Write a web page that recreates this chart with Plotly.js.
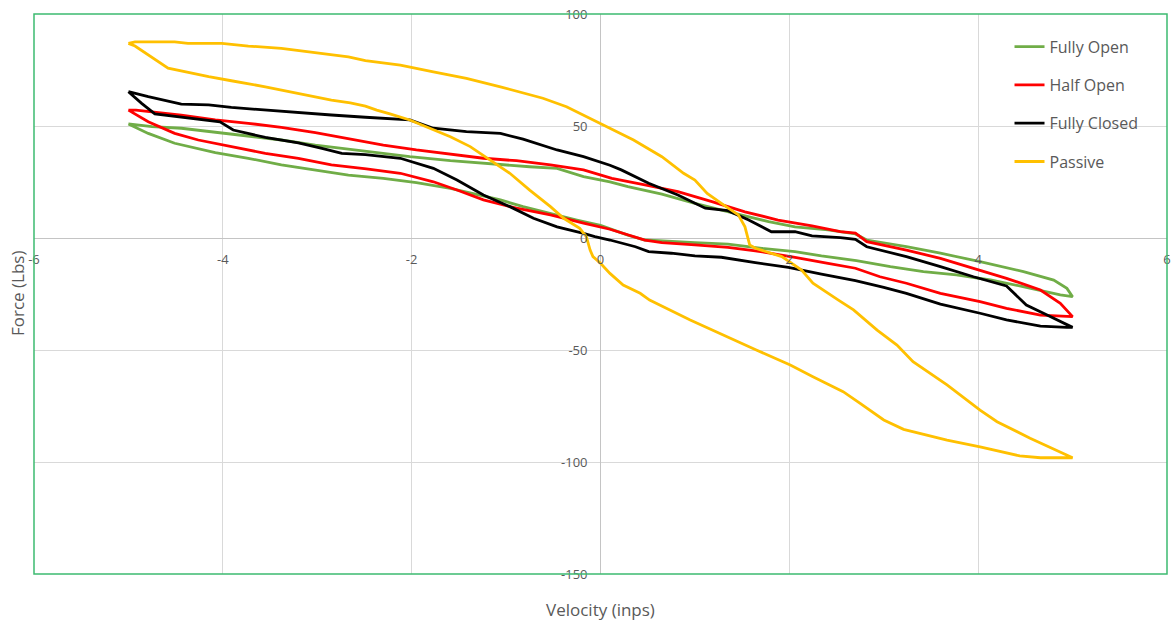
<!DOCTYPE html>
<html>
<head>
<meta charset="utf-8">
<script src="https://cdn.plot.ly/plotly-3.0.1.min.js"></script>
<style>
  html, body { margin: 0; padding: 0; background: #ffffff; }
  #chart { width: 1171px; height: 624px; }
</style>
</head>
<body>
<div id="chart"></div>
<script>
// Damper force vs. velocity loops (each loop: upper branch -5 -> 5, then lower branch back)
const seriesNames = ["Fully Open", "Half Open", "Fully Closed", "Passive"];
const seriesColors = ["#70AD47", "#FF0000", "#000000", "#FFC000"];

const fullyOpenX = [-5.0, -4.75, -4.44, -4.01, -3.73, -3.38, -3.02, -2.65, -2.30, -2.02, -1.59, -1.17, -0.75, -0.46, -0.18, 0.10, 0.29, 0.65, 1.0, 1.42, 1.78, 2.06, 2.41, 2.70, 2.82, 3.24, 3.60, 4.02, 4.48, 4.80, 4.94, 5.0,
  4.87, 4.51, 4.13, 3.77, 3.42, 3.07, 2.71, 2.34, 2.06, 1.71, 1.35, 1.0, 0.65, 0.47, 0.29, 0.0, -0.25, -0.53, -0.82, -1.06, -1.31, -1.59, -1.95, -2.30, -2.67, -3.02, -3.38, -3.73, -4.08, -4.51, -4.79, -5.0];
const fullyOpenY = [50.9, 49.7, 49.0, 47.0, 45.5, 43.75, 41.5, 39.6, 38.0, 36.3, 34.5, 33.0, 31.8, 31.1, 27.4, 25.1, 22.9, 19.6, 15.5, 11.0, 7.3, 5.0, 3.6, 1.8, -0.9, -3.9, -6.8, -10.6, -15.0, -18.8, -22.5, -26.2,
  -25.4, -22.0, -18.75, -16.5, -15.0, -12.8, -10.1, -8.0, -6.1, -4.6, -2.7, -2.1, -1.2, -0.9, 1.3, 5.6, 8.0, 11.0, 14.0, 17.0, 19.6, 22.2, 24.7, 26.6, 28.1, 30.4, 32.6, 35.6, 38.1, 42.3, 46.7, 50.9];

const halfOpenX = [-5.0, -4.92, -4.44, -4.08, -3.73, -3.38, -3.02, -2.65, -2.30, -1.95, -1.59, -1.24, -0.89, -0.53, -0.18, 0.0, 0.12, 0.47, 0.82, 1.18, 1.53, 1.88, 2.24, 2.54, 2.70, 2.82, 3.24, 3.60, 3.95, 4.30, 4.66, 4.87, 5.0,
  4.87, 4.66, 4.30, 4.02, 3.60, 3.24, 2.96, 2.70, 2.41, 2.06, 1.64, 1.35, 1.0, 0.65, 0.47, 0.29, 0.10, -0.18, -0.53, -0.89, -1.24, -1.52, -1.77, -2.12, -2.48, -2.85, -3.20, -3.55, -3.91, -4.26, -4.51, -4.79, -5.0];
const halfOpenY = [57.1, 57.1, 54.9, 52.7, 51.2, 49.4, 47.0, 44.3, 41.5, 39.3, 37.5, 35.6, 34.5, 32.6, 30.4, 28.0, 26.6, 23.7, 20.7, 16.2, 11.7, 8.0, 5.4, 2.8, 2.2, -1.6, -5.4, -9.1, -13.5, -18.0, -23.2, -29.2, -35.1,
  -34.8, -34.4, -31.4, -28.4, -24.7, -20.2, -17.3, -13.5, -11.3, -8.6, -5.7, -4.2, -3.1, -2.1, -0.9, 1.3, 3.9, 6.6, 10.3, 13.3, 17.0, 21.4, 25.1, 28.9, 30.9, 32.6, 35.6, 37.8, 40.8, 43.75, 46.7, 51.9, 57.1];

const fullyClosedX = [-5.0, -4.79, -4.44, -4.15, -3.91, -3.55, -3.20, -2.85, -2.49, -2.30, -2.02, -1.77, -1.42, -1.06, -0.82, -0.46, -0.18, 0.10, 0.22, 0.51, 0.82, 1.11, 1.35, 1.57, 1.81, 2.06, 2.24, 2.54, 2.70, 2.82, 3.24, 3.60, 3.95, 4.30, 4.51, 4.73, 5.0,
  4.94, 4.66, 4.30, 4.02, 3.60, 3.24, 3.0, 2.70, 2.34, 1.99, 1.64, 1.28, 1.0, 0.75, 0.51, 0.37, 0.10, -0.06, -0.18, -0.46, -0.71, -0.96, -1.24, -1.52, -1.77, -2.12, -2.49, -2.74, -2.95, -3.20, -3.55, -3.89, -4.03, -4.44, -4.72, -4.86, -5.0];
const fullyClosedY = [65.3, 63.1, 59.8, 59.4, 58.3, 57.1, 55.9, 54.9, 53.9, 53.4, 52.7, 49.0, 47.5, 46.7, 44.1, 39.3, 36.3, 32.5, 30.4, 24.4, 19.2, 13.3, 12.2, 8.0, 2.8, 2.8, 0.9, 0.2, -0.6, -3.9, -8.3, -12.8, -17.3, -21.4, -29.9, -34.4, -39.9,
  -39.9, -39.3, -36.6, -33.6, -29.5, -24.7, -22.0, -19.0, -16.1, -13.1, -11.0, -8.6, -8.0, -6.8, -6.1, -3.9, -0.9, 0.6, 2.1, 5.0, 8.8, 14.0, 19.2, 25.9, 31.1, 35.6, 37.2, 37.8, 40.0, 42.5, 44.9, 48.2, 51.9, 53.9, 55.4, 60.1, 65.3];

const passiveX = [-5.0, -4.93, -4.51, -4.37, -4.01, -3.73, -3.38, -3.02, -2.67, -2.49, -2.12, -1.77, -1.42, -1.06, -0.61, -0.36, 0.0, 0.35, 0.65, 0.88, 1.0, 1.13, 1.28, 1.46, 1.53, 1.58, 1.64, 1.92, 2.13, 2.25, 2.52, 2.68, 2.93, 3.14, 3.31, 3.67, 4.02, 4.20, 4.55, 5.0,
  4.66, 4.44, 4.02, 3.67, 3.21, 3.0, 2.75, 2.57, 2.25, 2.01, 1.65, 1.30, 0.95, 0.52, 0.42, 0.24, 0.10, 0.0, -0.08, -0.11, -0.15, -0.22, -0.39, -0.53, -0.75, -0.96, -1.17, -1.38, -1.59, -1.77, -2.02, -2.23, -2.37, -2.49, -2.65, -2.85, -3.20, -3.55, -3.91, -4.15, -4.58, -4.79, -4.93, -5.0];
const passiveY = [86.9, 87.6, 87.6, 86.9, 86.9, 85.7, 84.7, 82.7, 80.9, 79.2, 77.2, 74.2, 71.3, 67.5, 62.4, 58.6, 51.2, 43.75, 36.3, 28.9, 25.9, 19.9, 15.5, 10.3, 5.0, -3.1, -4.6, -8.3, -14.3, -20.2, -27.7, -32.1, -41.1, -47.8, -55.2, -65.6, -76.8, -82.0, -89.4, -98.1,
  -98.1, -97.3, -93.2, -90.2, -85.4, -81.25, -73.8, -68.6, -61.9, -56.7, -50.0, -43.3, -36.6, -27.7, -24.7, -21.0, -15.8, -11.3, -8.3, -5.4, 0.6, 4.3, 8.8, 14.0, 21.4, 28.9, 34.8, 40.8, 45.2, 48.2, 52.7, 55.4, 57.1, 58.9, 60.3, 61.6, 64.6, 67.5, 70.2, 72.0, 75.8, 81.7, 85.7, 86.9];

const xTickVals = [-6, -4, -2, 0, 2, 4, 6];
const yTickVals = [-150, -100, -50, 0, 50, 100];

const seriesX = [fullyOpenX, halfOpenX, fullyClosedX, passiveX];
const seriesY = [fullyOpenY, halfOpenY, fullyClosedY, passiveY];

const textColor = "#595959";
const fontFamily = "'Open Sans', 'Noto Sans', sans-serif";

const traces = seriesNames.map((name, i) => ({
  type: "scatter",
  mode: "lines",
  name: name,
  legendgroup: "g" + i,
  x: seriesX[i],
  y: seriesY[i],
  line: { color: seriesColors[i], width: 2.8 },
  hoverinfo: "skip"
}));

const borderGreen = "#3dbb70";

const layout = {
  width: 1171,
  height: 624,
  margin: { l: 34, r: 4, t: 14, b: 50 },
  paper_bgcolor: "#ffffff",
  plot_bgcolor: "#ffffff",
  font: { family: fontFamily, color: textColor, size: 13 },
  showlegend: true,
  legend: {
    x: 0.861, y: 0.972, xanchor: "left", yanchor: "top",
    bgcolor: "rgba(0,0,0,0)",
    font: { family: fontFamily, size: 16, color: textColor },
    itemwidth: 30,
    traceorder: "grouped",
    tracegroupgap: 14.5
  },
  xaxis: {
    range: [-6, 6],
    tickvals: xTickVals,
    ticktext: xTickVals.map(String),
    showgrid: true,
    gridcolor: "#d9d9d9",
    gridwidth: 1,
    zeroline: true,
    zerolinecolor: "#c4c4c4",
    zerolinewidth: 1,
    showline: false,
    ticks: "",
    anchor: "free",
    position: 0.6,
    ticklabelstandoff: 12,
    tickfont: { family: fontFamily, size: 13, color: textColor },
    fixedrange: true
  },
  yaxis: {
    range: [-150, 100],
    tickvals: yTickVals,
    ticktext: yTickVals.map(String),
    showgrid: true,
    gridcolor: "#d9d9d9",
    gridwidth: 1,
    zeroline: true,
    zerolinecolor: "#c4c4c4",
    zerolinewidth: 1,
    showline: false,
    ticks: "",
    anchor: "free",
    position: 0.5,
    ticklabelstandoff: 13,
    tickfont: { family: fontFamily, size: 13, color: textColor },
    fixedrange: true
  },
  shapes: [
    { type: "rect", xref: "paper", yref: "paper", x0: 0, x1: 1, y0: 0, y1: 1,
      line: { color: borderGreen, width: 1.5 }, fillcolor: "rgba(0,0,0,0)", layer: "above" }
  ],
  annotations: [
    { text: "Velocity (inps)", xref: "paper", yref: "paper", x: 0.5, y: -0.064,
      xanchor: "center", yanchor: "middle", showarrow: false,
      font: { family: fontFamily, size: 17, color: textColor } },
    { text: "Force (Lbs)", xref: "paper", yref: "paper", x: -0.015, y: 0.5,
      xanchor: "center", yanchor: "middle", textangle: -90, showarrow: false,
      font: { family: fontFamily, size: 17, color: textColor } }
  ],
  hovermode: false
};

Plotly.newPlot("chart", traces, layout, { displayModeBar: false, staticPlot: true });
</script>
</body>
</html>
